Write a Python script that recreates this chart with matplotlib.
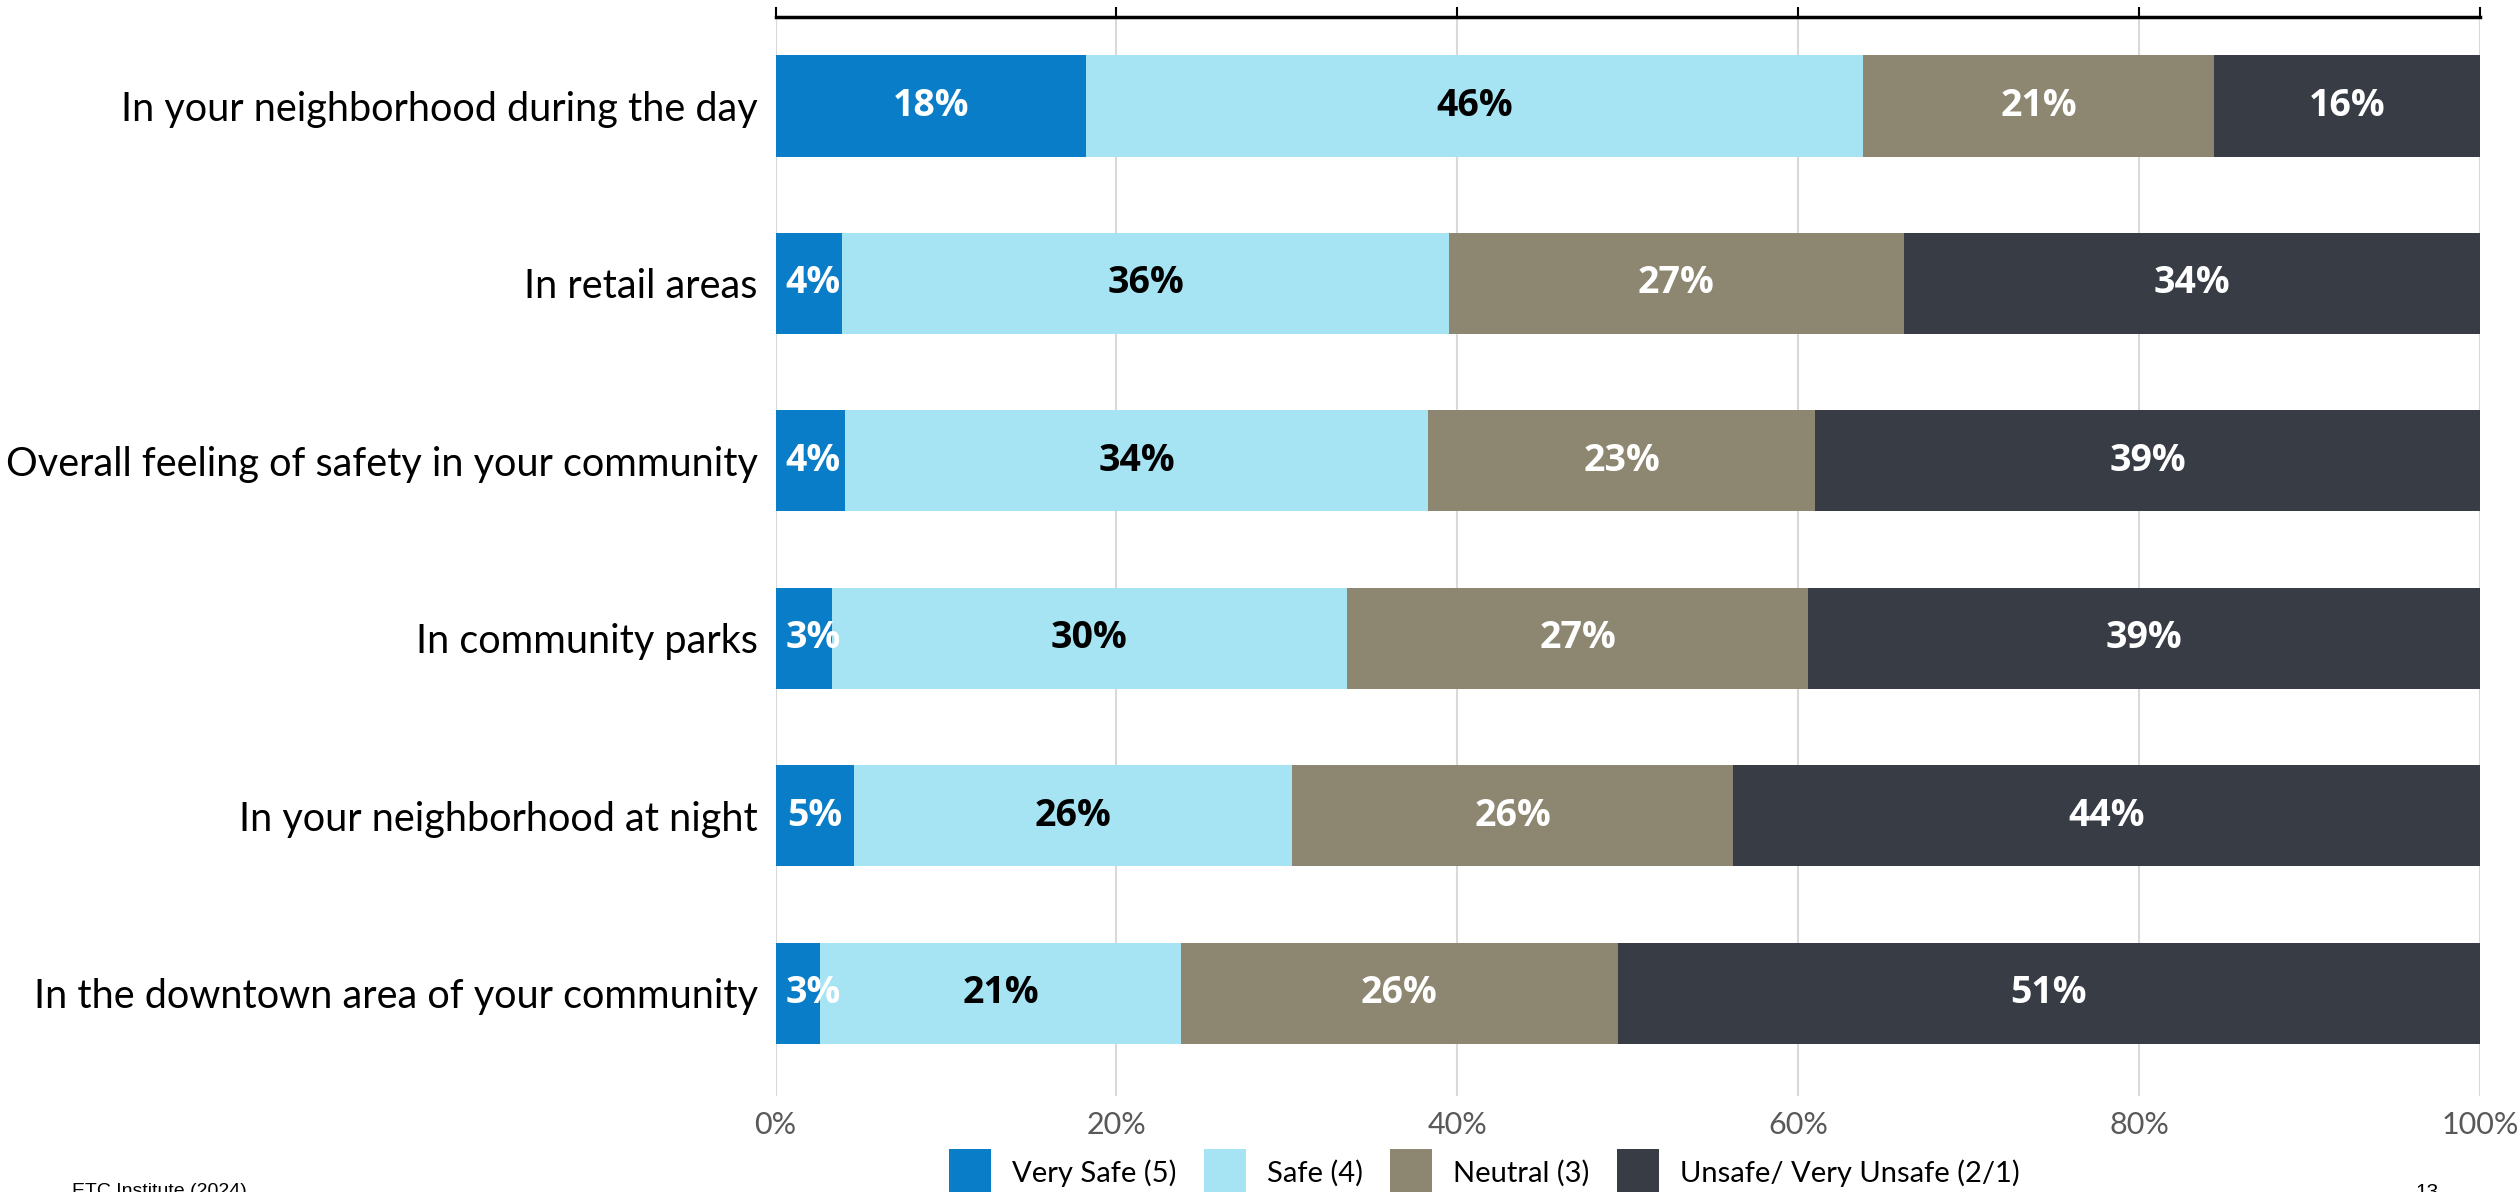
import matplotlib
matplotlib.use("Agg")
import matplotlib.pyplot as plt
from matplotlib.patches import Patch

# Survey items, top to bottom
categories = [
    "In your neighborhood during the day",
    "In retail areas",
    "Overall feeling of safety in your community",
    "In community parks",
    "In your neighborhood at night",
    "In the downtown area of your community",
]

series_names = ["Very Safe (5)", "Safe (4)", "Neutral (3)", "Unsafe/ Very Unsafe (2/1)"]

very_safe = [18.2, 3.9, 4.1, 3.3, 4.6, 2.6]
safe = [45.6, 35.6, 34.2, 30.2, 25.7, 21.2]
neutral = [20.6, 26.7, 22.7, 27.1, 25.9, 25.6]
unsafe = [15.6, 33.8, 39.0, 39.4, 43.8, 50.6]

x_ticks = [0, 20, 40, 60, 80, 100]
x_tick_labels = ["0%", "20%", "40%", "60%", "80%", "100%"]

colors = ["#0A7DC8", "#A6E4F3", "#8D8771", "#383D45"]
label_colors = ["white", "black", "white", "white"]

fig = plt.figure(figsize=(25.19, 11.92), dpi=100)
ax = fig.add_axes([0.3079, 0.0805, 0.9845 - 0.3079, 0.905])

series = [very_safe, safe, neutral, unsafe]
y = list(range(len(categories)))
left = [0.0] * len(categories)
for vals, col, lcol in zip(series, colors, label_colors):
    ax.barh(y, vals, left=left, height=0.57, color=col, zorder=3)
    for yi, (l, v) in enumerate(zip(left, vals)):
        # keep labels of very thin segments clear of the axis edge
        xc = max(l + v / 2, 2.2)
        ax.text(xc, yi, f"{round(v):d}%", ha="center", va="center",
                color=lcol, fontsize=27, fontweight="bold", family="Open Sans",
                zorder=4)
    left = [l + v for l, v in zip(left, vals)]

ax.set_xlim(0, 100)
ax.set_ylim(5.58, -0.5)
ax.set_yticks(y)
ax.set_yticklabels(categories, fontsize=28.5, family="Lato", color="black")
ax.tick_params(axis="y", length=0, pad=13)

ax.set_xticks(x_ticks)
ax.set_xticklabels(x_tick_labels, fontsize=22, family="Lato", color="#595959")
ax.tick_params(axis="x", bottom=False, top=True, labelbottom=True, labeltop=False,
               direction="out", length=7, width=1.5, color="black", pad=4)
ax.grid(axis="x", color="#D9D9D9", linewidth=1.5, zorder=0)
ax.set_axisbelow(True)

for side in ["left", "right", "bottom"]:
    ax.spines[side].set_visible(False)
ax.spines["top"].set_color("black")
ax.spines["top"].set_linewidth(2.5)

handles = [Patch(facecolor=c, edgecolor="none") for c in colors]
fig.legend(handles, series_names, loc="center", bbox_to_anchor=(0.5893, 1 - 1173 / 1192),
           ncol=4, frameon=False, prop={"family": "Lato", "size": 21},
           handlelength=1.44, handleheight=2.12, handletextpad=0.72,
           columnspacing=0.93, borderpad=0, borderaxespad=0)

fig.text(72 / 2519, 9 / 1192, "ETC Institute (2024)", ha="left", va="top",
         fontsize=14, family="Liberation Sans", color="black")
fig.text(2415 / 2519, 9 / 1192, "13", ha="left", va="top",
         fontsize=15, family="Liberation Sans", color="black")

fig.savefig("out.png", dpi=100)
